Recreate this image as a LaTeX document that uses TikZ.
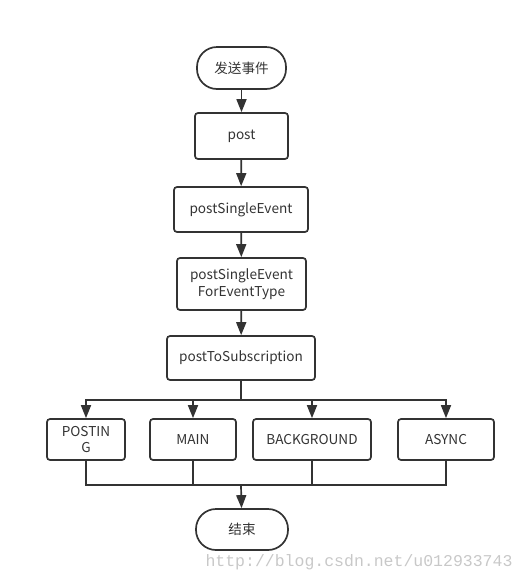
\documentclass[tikz,border=0pt]{standalone}
\usepackage{fontspec}
\setmainfont{Noto Sans CJK SC}
\newfontfamily\wmfont{Liberation Mono}
\usetikzlibrary{arrows.meta}
\definecolor{ln}{RGB}{51,51,51}
\definecolor{wm}{RGB}{200,200,200}
\begin{document}
\begin{tikzpicture}[x=1pt,y=-1pt,
  base/.style={draw=ln,line width=1.7pt,font=\fontsize{13.6}{16.5}\selectfont,text=ln,align=center,inner sep=0pt},
  proc/.style={base,rounded corners=3pt},
  term/.style={base,rounded corners=20pt},
  arr/.style={draw=ln,line width=1.7pt,-{Triangle[length=13pt,width=10pt]}},
  lin/.style={draw=ln,line width=1.7pt}]
\useasboundingbox (0,0) rectangle (526,582);
\node[term,minimum width=89pt,minimum height=42pt] (start) at (241.5,68) {\raisebox{-1pt}{发送事件}};
\node[proc,minimum width=93pt,minimum height=46pt] (post) at (241.5,136) {\raisebox{-1.5pt}{post}};
\node[proc,minimum width=134pt,minimum height=45pt] (pse) at (241,209.5) {\raisebox{-1.5pt}{postSingleEvent}};
\node[proc,minimum width=129pt,minimum height=52pt] (psef) at (241.5,284) {postSingleEvent\\ForEventType};
\node[proc,minimum width=148pt,minimum height=44pt] (pts) at (241,358) {\raisebox{-1.5pt}{postToSubscription}};
\node[proc,minimum width=78pt,minimum height=41pt] (posting) at (86,439.5) {POSTIN\\G};
\node[proc,minimum width=86pt,minimum height=41pt] (main) at (193,439.5) {\raisebox{-1pt}{MAIN}};
\node[proc,minimum width=118pt,minimum height=41pt] (bg) at (312,439.5) {\raisebox{-1pt}{BACKGROUND}};
\node[proc,minimum width=96pt,minimum height=41pt] (async) at (446,439.5) {\raisebox{-1pt}{ASYNC}};
\node[term,minimum width=92pt,minimum height=41pt] (end) at (242,529.5) {\raisebox{-1pt}{结束}};
\coordinate (top) at (241,400);
\coordinate (bot) at (241,485);
\draw[arr] (start) -- (post);
\draw[arr] (post) -- (pse);
\draw[arr] (pse) -- (psef);
\draw[arr] (psef) -- (pts);
\draw[lin] (pts.south) -- (top);
\draw[arr] (top) -| (posting.north);
\draw[arr] (top) -| (main.north);
\draw[arr] (top) -| (bg.north);
\draw[arr] (top) -| (async.north);
\draw[lin] (posting.south) |- (bot);
\draw[lin] (main.south) |- (bot);
\draw[lin] (bg.south) |- (bot);
\draw[lin] (async.south) |- (bot);
\draw[arr] (bot) -- (end);
\node[font=\wmfont\fontsize{16.5}{18}\selectfont,text=wm,inner sep=0pt] (wmk) at (359,562) {http://blog.csdn.net/u012933743};
\end{tikzpicture}
\end{document}
